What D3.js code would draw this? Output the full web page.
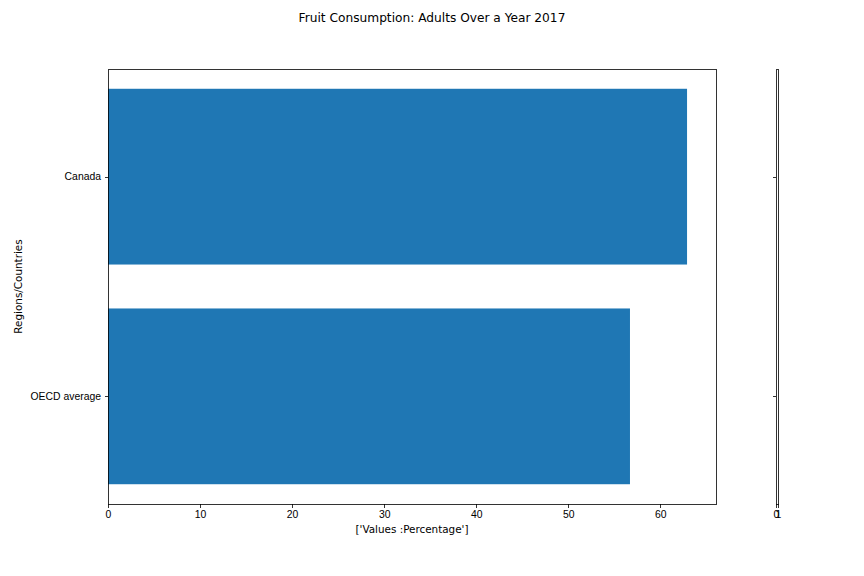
<!DOCTYPE html>
<html>
<head>
<meta charset="utf-8">
<script src="https://cdn.jsdelivr.net/npm/d3@7"></script>
<style>
  body { margin: 0; background: #fff; }
  svg { font-family: "DejaVu Sans", sans-serif; }
  .axis path, .axis line { stroke: #000; stroke-width: 0.8px; shape-rendering: crispEdges; }
  .axis text { font-size: 10.4px; fill: #000; }
</style>
</head>
<body>
<svg id="chart" width="864" height="576"></svg>
<script>
const categories = ["OECD average", "Canada"];
const values = [56.7, 62.9];
const xTicks = [0, 10, 20, 30, 40, 50, 60];
const title = "Fruit Consumption: Adults Over a Year 2017";
const xLabel = "['Values :Percentage']";
const yLabel = "Regions/Countries";

const svg = d3.select("#chart");
const W = 864, H = 576;
const m = { left: 108, right: 716, top: 69, bottom: 504 };

const x = d3.scaleLinear().domain([0, d3.max(values) * 1.05]).range([m.left, m.right]);
const n = categories.length;
const y = d3.scaleLinear().domain([-0.4 - 0.05 * (n - 1 + 0.8), n - 1 + 0.4 + 0.05 * (n - 1 + 0.8)]).range([m.bottom, m.top]);

// bars
svg.append("g").selectAll("rect").data(values).join("rect")
  .attr("x", x(0))
  .attr("y", (d, i) => y(i + 0.4))
  .attr("width", d => x(d) - x(0))
  .attr("height", (d, i) => y(i - 0.4) - y(i + 0.4))
  .attr("fill", "#1f77b4");

// frame
svg.append("rect").attr("x", m.left).attr("y", m.top)
  .attr("width", m.right - m.left).attr("height", m.bottom - m.top)
  .attr("fill", "none").attr("stroke", "#000").attr("stroke-width", 0.8)
  .attr("shape-rendering", "crispEdges");

// axes
const xAxis = d3.axisBottom(x).tickValues(xTicks).tickSize(3.5).tickPadding(3.5).tickFormat(d3.format("d"));
svg.append("g").attr("class", "axis").attr("transform", `translate(0,${m.bottom})`).call(xAxis)
  .call(g => g.select(".domain").remove());

const yAxis = d3.axisLeft(y).tickValues(d3.range(n)).tickSize(3.5).tickPadding(3.5).tickFormat(i => categories[i]);
svg.append("g").attr("class", "axis").attr("transform", `translate(${m.left},0)`).call(yAxis)
  .call(g => g.select(".domain").remove());

// small secondary axes
const x2 = d3.scaleLinear().domain([0, 1]).range([776, 778]);
svg.append("rect").attr("x", x2(0)).attr("y", m.top).attr("width", x2(1) - x2(0)).attr("height", m.bottom - m.top)
  .attr("fill", "none").attr("stroke", "#000").attr("stroke-width", 0.8)
  .attr("shape-rendering", "crispEdges");
svg.append("g").attr("class", "axis").attr("transform", `translate(0,${m.bottom})`)
  .call(d3.axisBottom(x2).tickValues([0, 1]).tickSize(3.5).tickPadding(3.5).tickFormat(d3.format("d")))
  .call(g => g.select(".domain").remove());
svg.append("g").attr("class", "axis").attr("transform", `translate(${x2(0)},0)`)
  .call(d3.axisLeft(y).tickValues(d3.range(n)).tickSize(3.5).tickFormat(""))
  .call(g => g.select(".domain").remove());

// labels
svg.append("text").attr("x", W / 2).attr("y", 22).attr("text-anchor", "middle")
  .attr("font-size", 12.2).text(title);
svg.append("text").attr("x", (m.left + m.right) / 2).attr("y", 533).attr("text-anchor", "middle")
  .attr("font-size", 10.4).text(xLabel);
svg.append("text").attr("transform", `translate(22,${(m.top + m.bottom) / 2}) rotate(-90)`)
  .attr("text-anchor", "middle").attr("font-size", 10.4).text(yLabel);
</script>
</body>
</html>
